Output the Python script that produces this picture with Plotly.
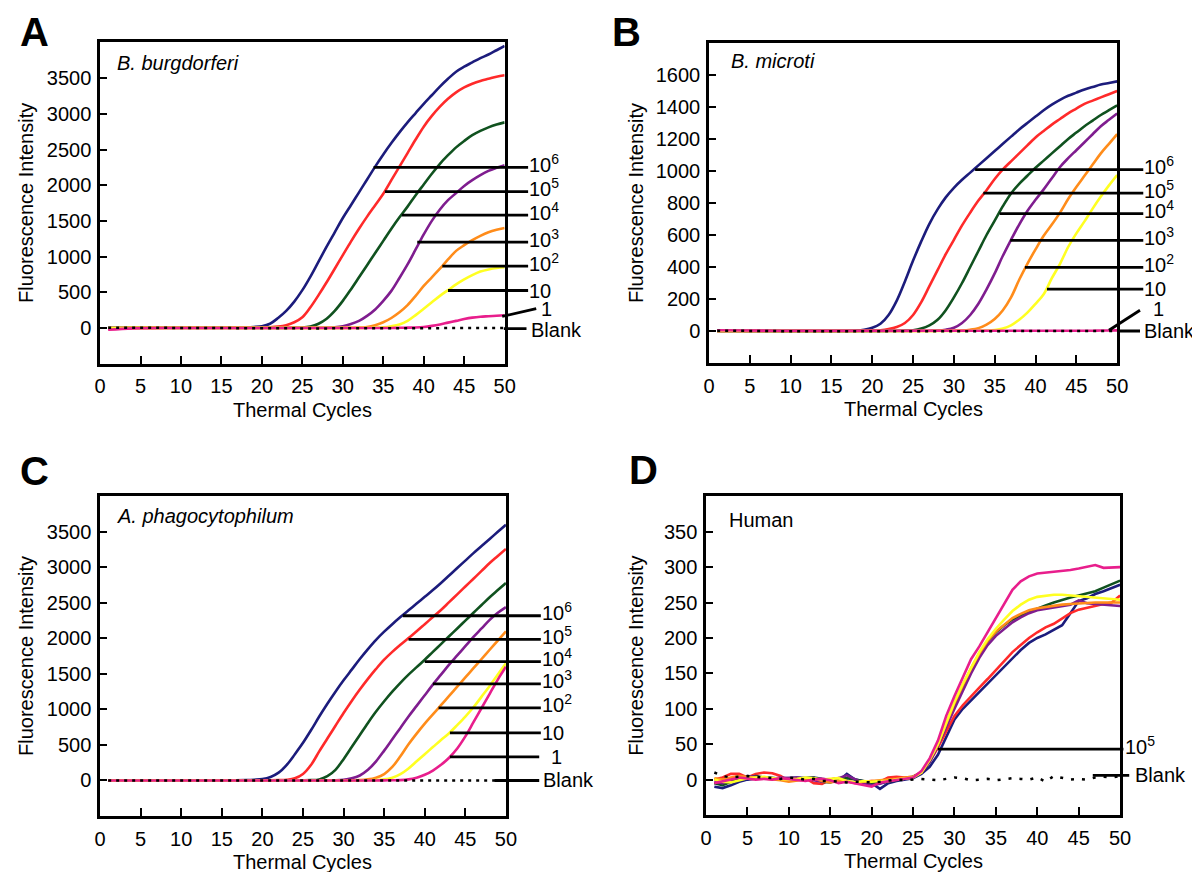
import plotly.graph_objects as go

# ---------------------------------------------------------------- data
GRID = [1, 4, 8, 12, 16,
        18, 19, 20, 21, 22, 23, 24, 25, 26, 27,
        28, 29, 30, 31, 32, 33, 34, 35, 36, 37,
        38, 39, 40, 41, 42, 43, 44, 45, 46, 47,
        48, 49, 50]
CYCLES = list(range(1, 51))
SERIES = ["Navy", "Red", "Green", "Purple", "Orange", "Yellow", "Magenta", "Blank"]

# Panel A  B. burgdorferi
A_NAVY = [0, 3, 5, 5, 5,
          10, 15, 25, 60, 140, 240, 370, 530, 720, 930,
          1140, 1340, 1540, 1720, 1900, 2080, 2260, 2430, 2590, 2740,
          2880, 3010, 3140, 3260, 3380, 3490, 3590, 3660, 3720, 3780,
          3830, 3890, 3950]
A_RED = [-5, 0, 3, 3, 3,
         3, 5, 5, 10, 20, 40, 80, 150, 290, 460,
         640, 830, 1020, 1210, 1390, 1560, 1720, 1880, 2070, 2260,
         2450, 2640, 2820, 2970, 3100, 3210, 3300, 3370, 3420, 3460,
         3490, 3520, 3540]
A_GREEN = [0, 3, 3, 3, 3,
           3, 3, 3, 3, 3, 3, 5, 5, 20, 60,
           130, 240, 380, 540, 710, 880, 1050, 1220, 1390, 1550,
           1700, 1860, 2010, 2160, 2300, 2420, 2530, 2620, 2700, 2760,
           2810, 2850, 2880]
A_PURPLE = [0, 2, 2, 2, 2,
            2, 2, 2, 2, 2, 2, 2, 3, 3, 3,
            5, 10, 25, 55, 100, 170, 260, 380, 520, 700,
            890, 1100, 1310, 1500, 1660, 1790, 1890, 1990, 2070, 2140,
            2200, 2245, 2280]
A_ORANGE = [0, 2, 2, 2, 2,
            2, 2, 2, 2, 2, 2, 2, 2, 2, 2,
            2, 2, 2, 3, 5, 15, 40, 80, 140, 220,
            320, 450, 590, 710, 830, 960, 1080, 1160, 1230, 1290,
            1340, 1375, 1400]
A_YELLOW = [0, 2, 2, 2, 2,
            2, 2, 2, 2, 2, 2, 2, 2, 2, 2,
            2, 2, 2, 2, 2, 3, 5, 10, 25, 50,
            100, 180, 270, 360, 450, 530, 610, 680, 740, 790,
            820, 840, 850]
A_MAGENTA = [-25, -5, 0, 0, 0,
             0, 0, 0, 0, 0, 0, 0, 0, 0, 0,
             0, 0, 0, 0, 0, 0, 0, 0, 0, 3,
             5, 8, 15, 30, 50, 75, 100, 125, 145, 158,
             165, 172, 178]
A_BLANK = [5, 5, 5, 3, 0,
           -3, -3, -4, -4, -5, -5, -5, -6, -6, -7,
           -8, -8, -9, -9, -10, -10, -10, -10, -10, -10,
           -10, -10, -10, -9, -8, -7, -6, -5, -4, -3,
           -2, 0, 2]

# Panel B  B. microti
B_NAVY = [0, 0, 0, 0, 0,
          3, 8, 20, 45, 100, 190, 310, 440, 560, 670,
          760, 835, 895, 945, 990, 1035, 1080, 1125, 1170, 1215,
          1260, 1300, 1340, 1380, 1415, 1445, 1470, 1490, 1510, 1525,
          1540, 1550, 1560]
B_RED = [0, 0, 0, 0, 0,
         0, 2, 3, 5, 12, 25, 50, 100, 180, 280,
         380, 480, 570, 660, 740, 815, 880, 950, 1010, 1060,
         1110, 1160, 1210, 1250, 1290, 1325, 1360, 1390, 1420, 1440,
         1460, 1480, 1500]
B_GREEN = [0, 0, 0, 0, 0,
           0, 0, 0, 0, 2, 2, 3, 5, 15, 35,
           70, 130, 210, 300, 400, 500, 600, 690, 780, 860,
           920, 970, 1020, 1065, 1110, 1155, 1200, 1240, 1280, 1315,
           1350, 1380, 1410]
B_PURPLE = [0, 0, 0, 0, 0,
            0, 0, 0, 0, 0, 0, 0, 2, 2, 2,
            3, 8, 20, 50, 100, 170, 260, 360, 470, 570,
            665, 750, 820, 885, 955, 1025, 1080, 1130, 1180, 1230,
            1280, 1320, 1360]
B_ORANGE = [0, 0, 0, 0, 0,
            0, 0, 0, 0, 0, 0, 0, 0, 0, 0,
            2, 2, 2, 3, 8, 18, 40, 75, 130, 210,
            320, 420, 510, 595, 665, 740, 825, 900, 970, 1040,
            1110, 1170, 1230]
B_YELLOW = [0, 0, 0, 0, 0,
            0, 0, 0, 0, 0, 0, 0, 0, 0, 0,
            0, 0, 0, 0, 2, 2, 3, 6, 15, 35,
            70, 115, 170, 230, 330, 420, 525, 610, 685, 765,
            840, 910, 975]
B_MAGENTA = [5, 3, 2, 2, 2,
             2, 2, 2, 2, 2, 2, 2, 2, 2, 2,
             2, 2, 2, 2, 2, 2, 2, 2, 2, 2,
             2, 2, 2, 2, 2, 2, 2, 2, 2, 2,
             3, 3, 4]
B_BLANK = [2, 0, -2, -2, -2,
           -2, -2, -2, -2, -2, -2, -2, -2, -2, -2,
           -2, -2, -2, -2, -2, -2, -2, -2, -2, -2,
           -2, -2, -2, -2, -2, -2, -2, -2, -2, -2,
           0, 0, 0]

# Panel C  A. phagocytophilum
C_NAVY = [0, 0, 0, 0, 3,
          5, 10, 20, 50, 110, 220, 370, 530, 710, 900,
          1080, 1250, 1410, 1560, 1710, 1850, 1980, 2095, 2200, 2300,
          2395, 2490, 2585, 2680, 2780, 2885, 2990, 3095, 3200, 3300,
          3400, 3500, 3600]
C_RED = [0, 0, 0, 0, 0,
         0, 2, 3, 3, 5, 10, 30, 90, 220, 410,
         590, 770, 950, 1120, 1280, 1430, 1570, 1700, 1810, 1910,
         2005, 2100, 2200, 2300, 2400, 2510, 2620, 2730, 2840, 2950,
         3060, 3160, 3260]
C_GREEN = [0, 0, 0, 0, 0,
           0, 0, 0, 0, 2, 2, 3, 3, 5, 15,
           60, 150, 300, 470, 640, 810, 970, 1115, 1250, 1375,
           1490, 1595, 1700, 1810, 1920, 2030, 2140, 2250, 2360, 2470,
           2580, 2680, 2780]
C_PURPLE = [0, 0, 0, 0, 0,
            0, 0, 0, 0, 0, 0, 2, 2, 2, 2,
            2, 3, 10, 30, 70, 150, 270, 420, 580, 740,
            900, 1050, 1200, 1350, 1490, 1630, 1760, 1890, 2020, 2140,
            2260, 2360, 2440]
C_ORANGE = [0, 0, 0, 0, 0,
            0, 0, 0, 0, 0, 0, 0, 0, 0, 0,
            2, 2, 2, 3, 5, 15, 40, 90, 190, 340,
            510, 660, 800, 930, 1060, 1190, 1320, 1450, 1580, 1710,
            1840, 1970, 2100]
C_YELLOW = [0, 0, 0, 0, 0,
            0, 0, 0, 0, 0, 0, 0, 0, 0, 0,
            0, 0, 0, 0, 2, 3, 5, 15, 40, 90,
            170, 270, 370, 470, 570, 665, 780, 900, 1030, 1180,
            1330, 1490, 1650]
C_MAGENTA = [0, 0, 0, 0, 0,
             0, 0, 0, 0, 0, 0, 0, 0, 0, 0,
             0, 0, 0, 0, 0, 0, 0, 2, 3, 5,
             15, 40, 80, 140, 220, 320, 450, 620, 820, 1020,
             1220, 1420, 1600]
C_BLANK = [0, 0, 0, 0, 0,
           0, 0, 0, 0, 0, 0, 0, 0, 0, 0,
           0, 0, 0, 0, 0, 0, 0, 0, 0, 0,
           0, 0, 0, 0, 0, 0, 0, 0, 0, 0,
           0, 0, 0]

# Panel D  Human (every cycle)
D_NAVY = [-10, -12, -8, -3, 0, 2, 3, 2, 1, 2,
          3, 2, 3, 1, 0, -2, 8, 0, -2, -5,
          -13, -5, -2, 0, 2, 8, 18, 35, 60, 85,
          100, 112, 123, 136, 148, 160, 172, 183, 193, 200,
          205, 212, 218, 235, 252, 256, 262, 266, 270, 275]
D_RED = [0, 3, 8, 8, 3, 8, 10, 9, 5, -2,
         0, 2, -5, -6, 0, 2, -2, -5, -3, -2,
         -3, 3, 4, 3, 4, 10, 25, 45, 68, 90,
         105, 118, 130, 142, 155, 168, 180, 190, 200, 208,
         215, 220, 227, 235, 240, 243, 245, 248, 250, 260]
D_GREEN = [-5, -8, -3, 2, 3, 5, 3, 2, 2, 1,
           0, 2, 3, -3, -4, 0, 2, 0, -3, -5,
           -5, -3, 0, 2, 4, 10, 25, 50, 78, 105,
           130, 155, 178, 195, 208, 218, 226, 232, 237, 242,
           246, 250, 254, 257, 260, 263, 266, 271, 276, 281]
D_PURPLE = [-3, -5, 0, 3, 5, 4, 2, 1, 3, 2,
            3, 1, -2, -3, 0, 2, 6, 0, -5, -8,
            -6, -2, 0, 2, 3, 10, 25, 48, 75, 100,
            125, 150, 172, 190, 203, 213, 222, 229, 235, 239,
            241, 243, 245, 247, 253, 249, 248, 247, 246, 245]
D_ORANGE = [2, 0, 3, 5, 4, 3, 2, 0, -1, -3,
            -1, 0, 2, -2, -4, -2, -3, -4, -3, -2,
            -2, -1, 1, 3, 4, 10, 28, 50, 80, 108,
            133, 157, 178, 196, 209, 219, 228, 234, 239, 242,
            244, 246, 247, 248, 249, 250, 250, 250, 250, 250]
D_YELLOW = [0, -3, -4, -1, 2, 3, 4, 2, 1, 0,
            1, 3, 2, 0, 1, 2, -2, -4, -2, -3,
            -2, -2, 0, 2, 3, 10, 28, 50, 80, 110,
            135, 158, 180, 198, 213, 226, 238, 247, 254, 258,
            260, 261, 261, 260, 259, 258, 257, 256, 255, 254]
D_MAGENTA = [-5, -3, 0, 3, 2, 0, 1, 0, 2, 1,
             0, -2, 0, 1, -1, -5, -3, -5, -8, -10,
             -4, -2, 0, 2, 3, 12, 30, 55, 90, 118,
             145, 170, 188, 208, 228, 250, 268, 280, 287, 291,
             292, 293, 295, 296, 298, 301, 303, 299, 299, 300]
D_BLANK = [10, 5, 3, 4, 5, 4, 3, 2, 1, 3,
           2, 0, 1, -2, -2, -3, -4, -3, -4, -4,
           -3, -2, 0, -1, 0, 1, 0, -1, 1, 3,
           2, -1, 0, 1, -1, 1, 2, 1, 0, 3,
           -3, 5, 3, 0, 1, 0, 3, 4, 3, 5]

# Label leader lines: start (x0, y0) -> end (x1, y1), and label position
LABELS_6 = ["10<sup>6</sup>", "10<sup>5</sup>", "10<sup>4</sup>", "10<sup>3</sup>",
            "10<sup>2</sup>", "10", "1", "Blank"]
A_LEAD_X0 = [33.8, 35.2, 37.3, 39.2, 42.3, 43.0, 49.7, 49.9]
A_LEAD_Y0 = [2250, 1910, 1580, 1204, 867, 525, 163, -10]
A_LEAD_X1 = [52.9, 52.9, 52.9, 52.9, 52.9, 52.9, 53.9, 52.7]
A_LEAD_Y1 = [2250, 1910, 1580, 1204, 867, 525, 270, -10]
A_LAB_X = [53.0, 53.0, 53.0, 53.0, 53.0, 53.0, 55.4, 53.2]
A_LAB_Y = [2250, 1910, 1580, 1204, 867, 525, 262, -30]

B_LEAD_X0 = [32.6, 33.6, 35.6, 36.9, 38.7, 41.4, 49.0, 50.0]
B_LEAD_Y0 = [1008, 862, 733, 567, 398, 262, 5, 0]
B_LEAD_X1 = [53.2, 53.2, 53.2, 53.2, 53.2, 53.2, 52.8, 52.8]
B_LEAD_Y1 = [1008, 862, 733, 567, 398, 262, 130, 0]
B_LAB_X = [53.3, 53.3, 53.3, 53.3, 53.3, 53.3, 55.3, 53.3]
B_LAB_Y = [1008, 862, 733, 567, 398, 262, 138, -2]

C_LEAD_X0 = [37.3, 38.0, 40.0, 41.0, 41.7, 43.1, 43.1, 48.6]
C_LEAD_Y0 = [2319, 1987, 1673, 1359, 1022, 670, 333, 0]
C_LEAD_X1 = [54.3, 54.3, 54.3, 54.3, 54.3, 54.3, 54.1, 54.1]
C_LEAD_Y1 = [2319, 1987, 1673, 1359, 1022, 670, 333, 0]
C_LAB_X = [54.5, 54.5, 54.5, 54.5, 54.5, 54.5, 56.5, 54.6]
C_LAB_Y = [2319, 1987, 1673, 1359, 1022, 670, 333, 0]

D_LABELS = ["10<sup>5</sup>", "Blank"]
D_LEAD_X0 = [28.0, 46.7]
D_LEAD_Y0 = [43, 6]
D_LEAD_X1 = [50.4, 51.1]
D_LEAD_Y1 = [43, 6]
D_LAB_X = [50.6, 51.8]
D_LAB_Y = [43, 7]

A_TICKS = [0, 500, 1000, 1500, 2000, 2500, 3000, 3500]
B_TICKS = [0, 200, 400, 600, 800, 1000, 1200, 1400, 1600]
D_TICKS = [0, 50, 100, 150, 200, 250, 300, 350]
X_TICKS = [0, 5, 10, 15, 20, 25, 30, 35, 40, 45, 50]

# ---------------------------------------------------------------- style / layout
W, H = 1200, 872
FONT = "Liberation Sans, Arial, Helvetica, sans-serif"
COLORS = ["#1c1c7c", "#ff2a2a", "#10521f", "#7f1d8f", "#ff8c1a", "#ffff22", "#e81e8c"]
EXT = 57  # overlay x-range for label leaders

PANELS = [
    dict(letter="A", title="<i>B. burgdorferi</i>", box=(87.3, 34.4, 497.7, 355.7),
         yr=(-500, 4000), yt=A_TICKS, x=GRID,
         ys=[A_NAVY, A_RED, A_GREEN, A_PURPLE, A_ORANGE, A_YELLOW, A_MAGENTA, A_BLANK],
         lead=(A_LEAD_X0, A_LEAD_Y0, A_LEAD_X1, A_LEAD_Y1), lab=(LABELS_6, A_LAB_X, A_LAB_Y),
         letter_xy=(21, 24), title_xy=(102, 55), ytitle_x=12, shape="spline", dash="3px,5px"),
    dict(letter="B", title="<i>B. microti</i>", box=(705, 35, 1119, 355),
         yr=(-200, 1800), yt=B_TICKS, x=GRID,
         ys=[B_NAVY, B_RED, B_GREEN, B_PURPLE, B_ORANGE, B_YELLOW, B_MAGENTA, B_BLANK],
         lead=(B_LEAD_X0, B_LEAD_Y0, B_LEAD_X1, B_LEAD_Y1), lab=(LABELS_6, B_LAB_X, B_LAB_Y),
         letter_xy=(621, 24), title_xy=(725, 53), ytitle_x=631, shape="spline", dash="3px,5px"),
    dict(letter="C", title="<i>A. phagocytophilum</i>", box=(87.3, 488.3, 499, 808),
         yr=(-500, 4000), yt=A_TICKS, x=GRID,
         ys=[C_NAVY, C_RED, C_GREEN, C_PURPLE, C_ORANGE, C_YELLOW, C_MAGENTA, C_BLANK],
         lead=(C_LEAD_X0, C_LEAD_Y0, C_LEAD_X1, C_LEAD_Y1), lab=(LABELS_6, C_LAB_X, C_LAB_Y),
         letter_xy=(21, 463), title_xy=(102, 508), ytitle_x=12, shape="spline", dash="3px,5px"),
    dict(letter="D", title="Human", box=(702, 488.3, 1122, 807),
         yr=(-50, 400), yt=D_TICKS, x=CYCLES,
         ys=[D_NAVY, D_RED, D_GREEN, D_PURPLE, D_ORANGE, D_YELLOW, D_MAGENTA, D_BLANK],
         lead=(D_LEAD_X0, D_LEAD_Y0, D_LEAD_X1, D_LEAD_Y1), lab=(D_LABELS, D_LAB_X, D_LAB_Y),
         letter_xy=(639, 462), title_xy=(723, 512), ytitle_x=631, shape="linear", dash="3px,8px"),
]

fig = go.Figure()
layout = dict(width=W, height=H, margin=dict(l=0, r=0, t=0, b=0), autosize=False,
              paper_bgcolor="white", plot_bgcolor="rgba(0,0,0,0)", showlegend=False,
              font=dict(family=FONT, size=20, color="black"), annotations=[])


def sfx(i):
    return "" if i == 1 else str(i)


for i, p in enumerate(PANELS, start=1):
    l, t, r, b = p["box"]
    xa, ya, xo = sfx(i), sfx(i), str(i + 4)
    layout["xaxis" + xa] = dict(
        domain=[l / W, r / W], range=[0, 50], anchor="y" + ya, tickvals=X_TICKS,
        ticks="inside", ticklen=8, tickwidth=1.5, tickcolor="black",
        showline=True, mirror=True, linewidth=2.5, linecolor="black",
        showgrid=False, zeroline=False, ticklabelstandoff=3,
        tickfont=dict(size=20, family=FONT, color="black"))
    layout["yaxis" + ya] = dict(
        domain=[1 - b / H, 1 - t / H], range=list(p["yr"]), anchor="x" + xa, tickvals=p["yt"],
        ticks="inside", ticklen=7, tickwidth=1.5, tickcolor="black",
        showline=True, mirror=True, linewidth=2.5, linecolor="black",
        showgrid=False, zeroline=False, ticklabelstandoff=2,
        tickfont=dict(size=20, family=FONT, color="black"))
    ext_r = l + EXT / 50 * (r - l)
    layout["xaxis" + xo] = dict(domain=[l / W, ext_r / W], range=[0, EXT], anchor="y" + ya,
                                visible=False, showgrid=False, zeroline=False)

    # curves
    for k, (name, yv) in enumerate(zip(SERIES, p["ys"])):
        if name == "Blank":
            line = dict(color="black", width=2.5, dash=p["dash"])
        else:
            line = dict(color=COLORS[k], width=2.6, shape=p["shape"])
        fig.add_trace(go.Scatter(x=p["x"], y=yv, mode="lines", name=name, line=line,
                                 xaxis="x" + xa, yaxis="y" + ya, hoverinfo="skip"))

    # leader lines (drawn on the extended overlay axis so they may leave the frame)
    x0s, y0s, x1s, y1s = p["lead"]
    for x0, y0, x1, y1 in zip(x0s, y0s, x1s, y1s):
        fig.add_trace(go.Scatter(x=[x0, x1], y=[y0, y1], mode="lines",
                                 line=dict(color="black", width=2.8),
                                 xaxis="x" + xo, yaxis="y" + ya, hoverinfo="skip"))
    texts, lxs, lys = p["lab"]
    for txt, lx, ly in zip(texts, lxs, lys):
        single_one = (txt == "1")
        layout["annotations"].append(dict(
            text=txt, x=lx, y=ly, xref="x" + xo, yref="y" + ya, showarrow=False,
            xanchor="center" if single_one else "left", yanchor="middle",
            yshift=4 if "sup" in txt else 0, xshift=-2,
            font=dict(size=20, family=FONT, color="black")))

    # panel letter, species title, axis titles
    lx, ly = p["letter_xy"]
    layout["annotations"].append(dict(
        text="<b>" + p["letter"] + "</b>", x=lx / W, y=1 - ly / H, xref="paper", yref="paper",
        showarrow=False, xanchor="center", yanchor="middle",
        font=dict(size=40, family=FONT, color="black")))
    tx, ty = p["title_xy"]
    layout["annotations"].append(dict(
        text=p["title"], x=tx / W, y=1 - ty / H, xref="paper", yref="paper",
        showarrow=False, xanchor="left", yanchor="middle",
        font=dict(size=20, family=FONT, color="black")))
    layout["annotations"].append(dict(
        text="Fluorescence Intensity", x=p["ytitle_x"] / W, y=1 - ((t + b) / 2) / H,
        xref="paper", yref="paper", showarrow=False, textangle=-90,
        xanchor="center", yanchor="middle", font=dict(size=20, family=FONT, color="black")))
    layout["annotations"].append(dict(
        text="Thermal Cycles", x=((l + r) / 2) / W, y=1 - (b + 46) / H,
        xref="paper", yref="paper", showarrow=False, xanchor="center", yanchor="middle",
        font=dict(size=20, family=FONT, color="black")))

fig.update_layout(**layout)
fig.write_html("out.html")
